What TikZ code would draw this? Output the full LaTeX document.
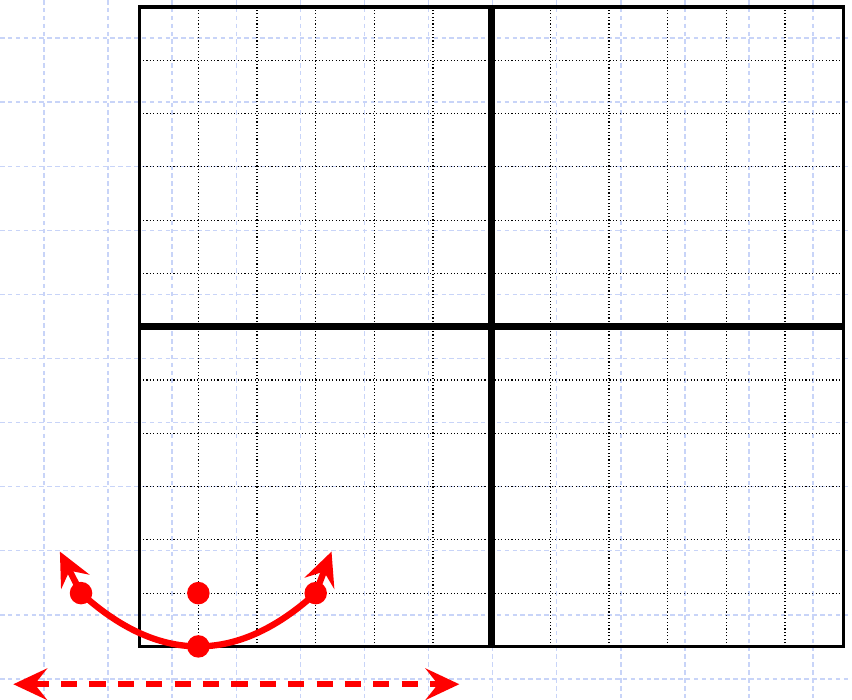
\documentclass[tikz,border=0pt]{standalone}
\usetikzlibrary{arrows.meta}
\definecolor{paperblue}{RGB}{200,212,248}

\tikzset{
  paper/.style={paperblue, line width=0.6pt, dash pattern=on 2pt off 1.5pt},
  thingrid/.style={black, line width=0.5pt, densely dotted},
  redtip/.tip={Stealth[length=15pt, width=14pt, inset=5.5pt]},
  dot/.style={circle, fill=red, inner sep=0pt, minimum size=10pt}
}

\begin{document}
\begin{tikzpicture}
    \useasboundingbox (0,0) rectangle (13.292,-10.905);
    % graph paper behind
    \foreach \i in {0,...,12}
      \draw[paper] ({0.686+\i},0) -- ({0.686+\i},-10.905);
    \foreach \j in {0,...,10}
      \draw[paper] (0,{-0.593-\j}) -- (13.292,{-0.593-\j});

    \begin{scope}[shift={(7.671,-5.097)}, x=0.9153cm, y=0.8312cm]
      \foreach \k in {-5,...,5} {
        \draw[thingrid] (\k,-6) -- (\k,6);
        \draw[thingrid] (-6,\k) -- (6,\k);
      }
      \draw[line width=1.4pt] (-6,-6) rectangle (6,6);
      \draw[line width=3pt] (-6,0) -- (6,0);
      \draw[line width=3pt] (0,-6) -- (0,6);

      \coordinate (tipL) at (-7.36,-4.22);
      \coordinate (tipR) at (-2.73,-4.22);
      \draw[red, line width=2.8pt, redtip-redtip]
        (tipL) -- plot[domain=-7:-3, samples=41, smooth] (\x, {(\x+5)^2/4-6}) -- (tipR);

      \node[dot] (vertex) at (-5,-6) {};
      \node[dot] (focus) at (-5,-5) {};
      \node[dot] (left) at (-7,-5) {};
      \node[dot] (right) at (-3,-5) {};

      \coordinate (dirL) at (-8.154,-6.71);
      \coordinate (dirR) at (-0.552,-6.71);
      \draw[red, line width=2.8pt, dash pattern=on 7.2pt off 5.4pt, redtip-redtip] (dirL) -- (dirR);
    \end{scope}
\end{tikzpicture}
\end{document}
